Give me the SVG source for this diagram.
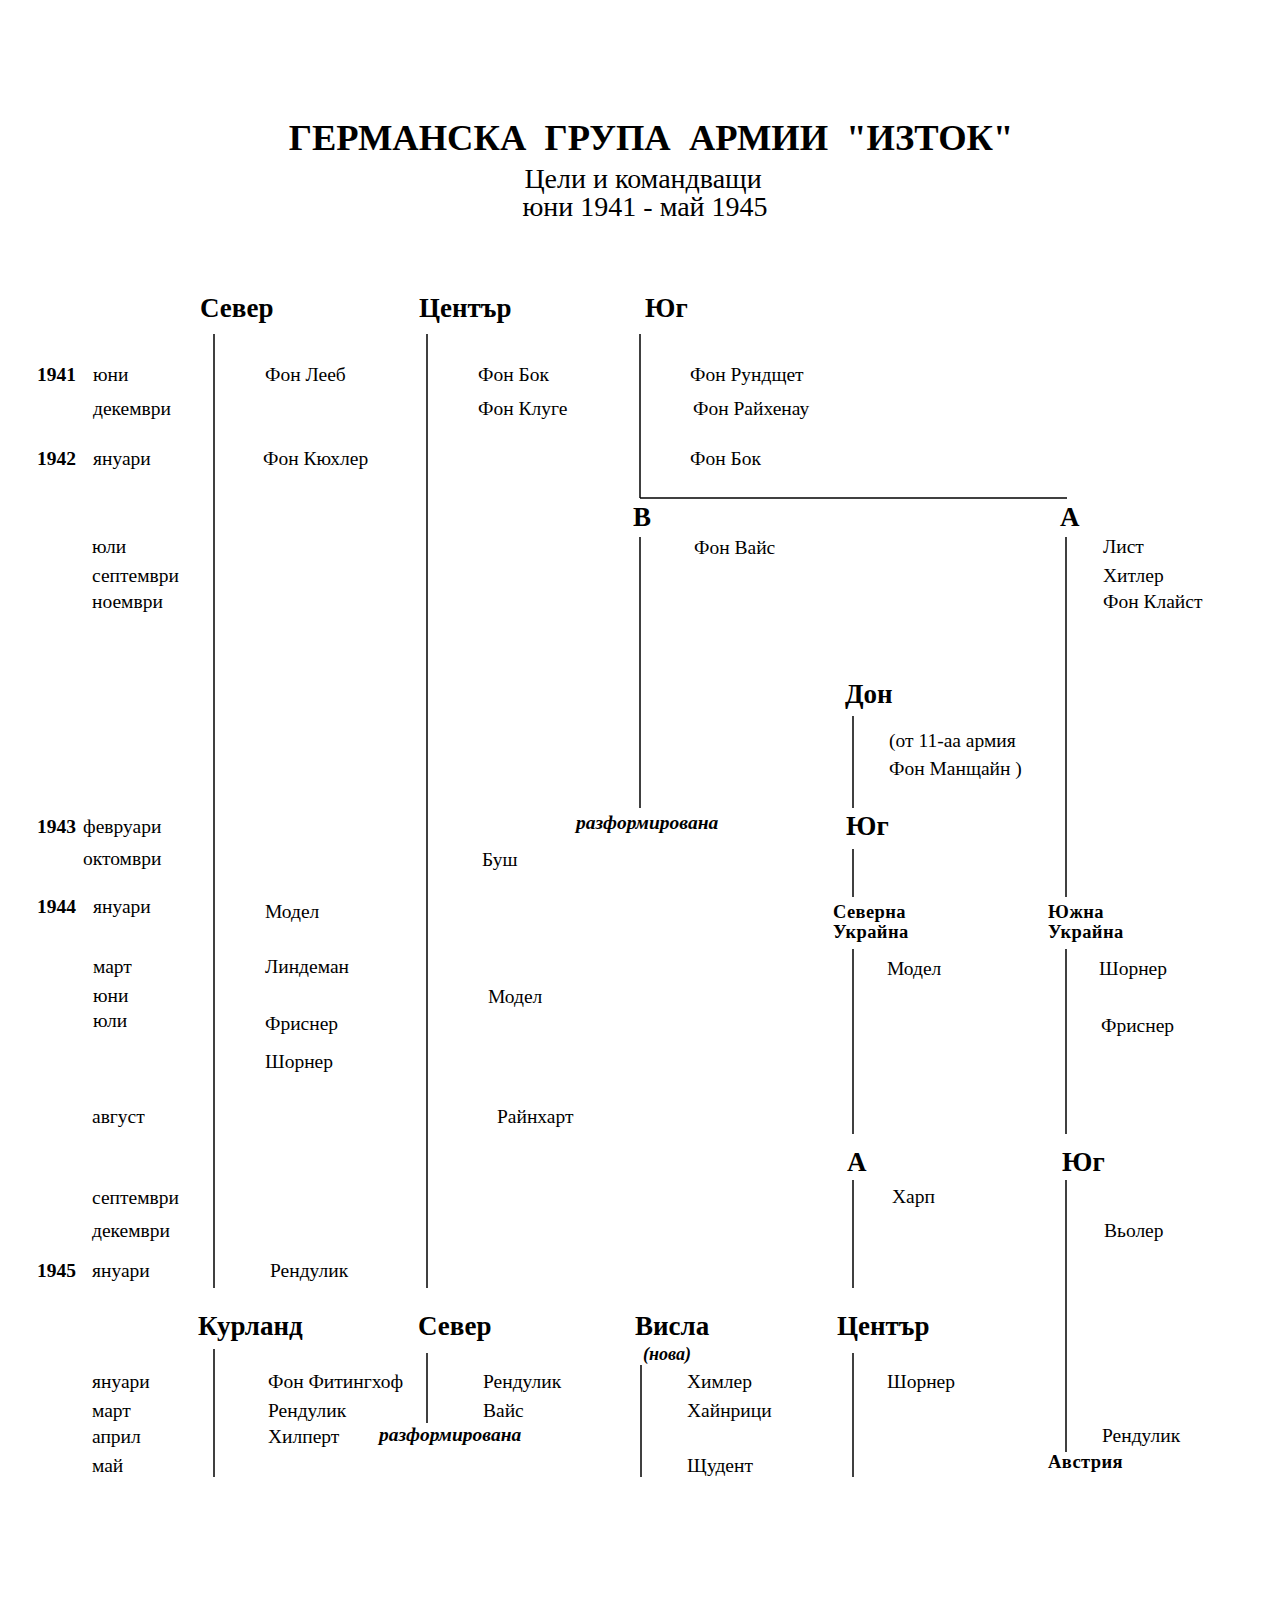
<svg xmlns="http://www.w3.org/2000/svg" width="1280" height="1600" viewBox="0 0 1280 1600">
<style>
text{font-family:"Liberation Serif","Times New Roman",serif;fill:#000}
.t{font-size:36.5px;font-weight:bold;text-anchor:middle;white-space:pre}
.s{font-size:28px;text-anchor:middle}
.h{font-size:27px;font-weight:bold}
.y{font-size:19.5px;font-weight:bold}
.n{font-size:19.5px}
.b{font-size:18.5px;font-weight:bold;letter-spacing:0.4px}
.i{font-size:19.5px;font-weight:bold;font-style:italic}
.ni{font-size:18px;font-weight:bold;font-style:italic}
line{stroke:#000;stroke-width:1.5}
</style>
<rect width="1280" height="1600" fill="#fff"/>
<g id="title">
<text class="t" x="651" y="150" xml:space="preserve">ГЕРМАНСКА  ГРУПА  АРМИИ  "ИЗТОК"</text>
<text class="s" x="643" y="188">Цели и командващи</text>
<text class="s" x="645" y="216">юни 1941 - май 1945</text>
</g>
<g id="connectors">
<line x1="214" y1="334" x2="214" y2="1288"/>
<line x1="427" y1="334" x2="427" y2="1288"/>
<line x1="640" y1="334" x2="640" y2="498"/>
<line x1="640" y1="498" x2="1067" y2="498"/>
<line x1="640" y1="537" x2="640" y2="808"/>
<line x1="1066" y1="537" x2="1066" y2="897"/>
<line x1="853" y1="716" x2="853" y2="808"/>
<line x1="853" y1="849" x2="853" y2="897"/>
<line x1="853" y1="949" x2="853" y2="1134"/>
<line x1="1066" y1="949" x2="1066" y2="1134"/>
<line x1="853" y1="1180" x2="853" y2="1288"/>
<line x1="1066" y1="1180" x2="1066" y2="1452"/>
<line x1="214" y1="1349" x2="214" y2="1477"/>
<line x1="427" y1="1353" x2="427" y2="1423"/>
<line x1="641" y1="1365" x2="641" y2="1477"/>
<line x1="853" y1="1353" x2="853" y2="1477"/>
</g>
<g id="timeline">
<text class="y" x="37" y="381">1941</text><text class="n" x="93" y="381">юни</text>
<text class="n" x="93" y="415">декември</text>
<text class="y" x="37" y="465">1942</text><text class="n" x="93" y="465">януари</text>
<text class="n" x="92" y="553">юли</text>
<text class="n" x="92" y="582">септември</text>
<text class="n" x="92" y="608">ноември</text>
<text class="y" x="37" y="833">1943</text><text class="n" x="83" y="833">февруари</text>
<text class="n" x="83" y="865">октомври</text>
<text class="y" x="37" y="913">1944</text><text class="n" x="93" y="913">януари</text>
<text class="n" x="93" y="973">март</text>
<text class="n" x="93" y="1002">юни</text>
<text class="n" x="93" y="1027">юли</text>
<text class="n" x="92" y="1123">август</text>
<text class="n" x="92" y="1204">септември</text>
<text class="n" x="92" y="1237">декември</text>
<text class="y" x="37" y="1277">1945</text><text class="n" x="92" y="1277">януари</text>
<text class="n" x="92" y="1388">януари</text>
<text class="n" x="92" y="1417">март</text>
<text class="n" x="92" y="1443">април</text>
<text class="n" x="92" y="1472">май</text>
</g>
<g id="sever">
<text class="h" x="200" y="317">Север</text>
<text class="n" x="265" y="381">Фон Лееб</text>
<text class="n" x="263" y="465">Фон Кюхлер</text>
<text class="n" x="265" y="918">Модел</text>
<text class="n" x="265" y="973">Линдеман</text>
<text class="n" x="265" y="1030">Фриснер</text>
<text class="n" x="265" y="1068">Шорнер</text>
<text class="n" x="270" y="1277">Рендулик</text>
</g>
<g id="centar">
<text class="h" x="419" y="317">Център</text>
<text class="n" x="478" y="381">Фон Бок</text>
<text class="n" x="478" y="415">Фон Клуге</text>
<text class="n" x="482" y="866">Буш</text>
<text class="n" x="488" y="1003">Модел</text>
<text class="n" x="497" y="1123">Райнхарт</text>
</g>
<g id="yug">
<text class="h" x="645" y="317">Юг</text>
<text class="n" x="690" y="381">Фон Рундщет</text>
<text class="n" x="693" y="415">Фон Райхенау</text>
<text class="n" x="690" y="465">Фон Бок</text>
</g>
<g id="grupa-b">
<text class="h" x="633" y="526">В</text>
<text class="n" x="694" y="554">Фон Вайс</text>
<text class="i" x="576" y="829">разформирована</text>
</g>
<g id="grupa-a">
<text class="h" x="1060" y="526">А</text>
<text class="n" x="1103" y="553">Лист</text>
<text class="n" x="1103" y="582">Хитлер</text>
<text class="n" x="1103" y="608">Фон Клайст</text>
</g>
<g id="don">
<text class="h" x="845" y="703">Дон</text>
<text class="n" x="889" y="747">(от 11-аа армия</text>
<text class="n" x="889" y="775">Фон Манщайн )</text>
</g>
<g id="yug-1943">
<text class="h" x="846" y="835">Юг</text>
</g>
<g id="severna-ukraina">
<text class="b" x="833" y="918">Северна</text>
<text class="b" x="833" y="938">Украйна</text>
<text class="n" x="887" y="975">Модел</text>
</g>
<g id="yuzhna-ukraina">
<text class="b" x="1048" y="918">Южна</text>
<text class="b" x="1048" y="938">Украйна</text>
<text class="n" x="1099" y="975">Шорнер</text>
<text class="n" x="1101" y="1032">Фриснер</text>
</g>
<g id="grupa-a-1944">
<text class="h" x="847" y="1171">А</text>
<text class="n" x="892" y="1203">Харп</text>
</g>
<g id="yug-1944">
<text class="h" x="1062" y="1171">Юг</text>
<text class="n" x="1104" y="1237">Вьолер</text>
<text class="n" x="1102" y="1442">Рендулик</text>
<text class="b" x="1048" y="1468">Австрия</text>
</g>
<g id="kurland">
<text class="h" x="198" y="1335">Курланд</text>
<text class="n" x="268" y="1388">Фон Фитингхоф</text>
<text class="n" x="268" y="1417">Рендулик</text>
<text class="n" x="268" y="1443">Хилперт</text>
</g>
<g id="sever-1945">
<text class="h" x="418" y="1335">Север</text>
<text class="n" x="483" y="1388">Рендулик</text>
<text class="n" x="483" y="1417">Вайс</text>
<text class="i" x="379" y="1441">разформирована</text>
</g>
<g id="visla">
<text class="h" x="635" y="1335">Висла</text>
<text class="ni" x="643" y="1360">(нова)</text>
<text class="n" x="687" y="1388">Химлер</text>
<text class="n" x="687" y="1417">Хайнрици</text>
<text class="n" x="687" y="1472">Щудент</text>
</g>
<g id="centar-1945">
<text class="h" x="837" y="1335">Център</text>
<text class="n" x="887" y="1388">Шорнер</text>
</g>
</svg>
